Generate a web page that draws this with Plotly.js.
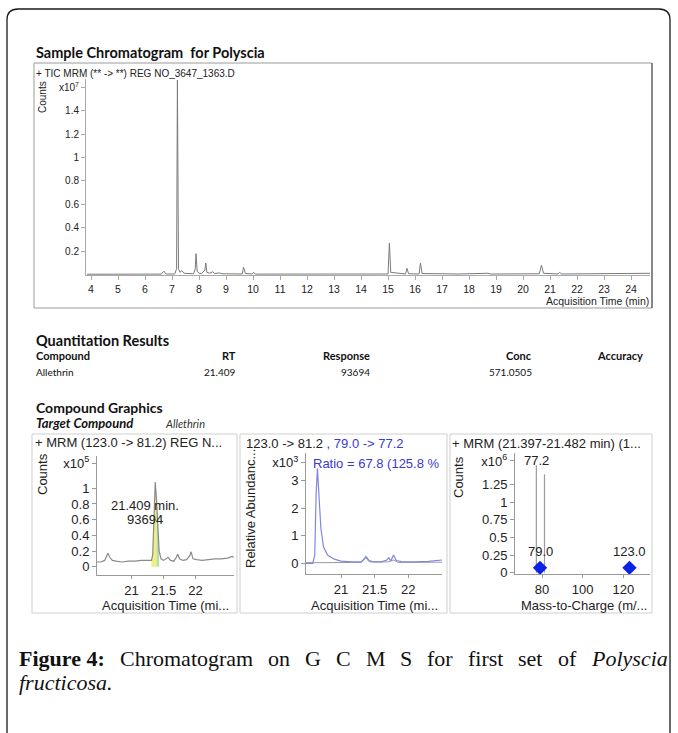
<!DOCTYPE html>
<html><head><meta charset="utf-8">
<script src="https://cdn.plot.ly/plotly-3.0.1.min.js"></script>
<style>html,body{margin:0;padding:0;background:#fff}#chart{width:678px;height:733px}</style>
</head><body><div id="chart"></div>
<script>
// ---- TIC chromatogram (counts x10^7 vs acquisition time, min)
const ticTime = [3.85,6.60,6.70,6.78,7.10,7.17,7.20,7.24,7.30,7.36,7.45,7.80,7.86,7.89,7.93,8.00,8.10,8.22,8.25,8.29,8.40,8.50,8.58,8.75,8.85,9.60,9.65,9.72,9.98,10.02,10.08,15.00,15.05,15.10,15.65,15.70,15.76,16.15,16.20,16.26,17.60,18.70,18.80,19.80,20.60,20.68,20.76,21.30,21.35,21.42,23.30,23.50,24.70];
const ticCounts = [0.004,0.005,0.030,0.006,0.006,0.050,1.660,0.050,0.020,0.035,0.012,0.008,0.050,0.180,0.030,0.012,0.010,0.040,0.100,0.020,0.012,0.025,0.010,0.015,0.008,0.006,0.063,0.010,0.006,0.020,0.005,0.006,0.270,0.020,0.006,0.055,0.008,0.006,0.100,0.010,0.006,0.012,0.006,0.008,0.008,0.080,0.012,0.006,0.020,0.006,0.006,0.012,0.012];
const ticXTicks = [4,5,6,7,8,9,10,11,12,13,14,15,16,17,18,19,20,21,22,23,24];
const ticYTicks = [0.2,0.4,0.6,0.8,1,1.2,1.4];

// ---- Quantitation results
const quantHeaders = ["Compound","RT","Response","Conc","Accuracy"];
const quantRow = ["Allethrin","21.409","93694","571.0505",""];

// ---- Panel 1: MRM 123.0 -> 81.2 (counts x10^5)
const p1Time = [20.46,20.52,20.58,20.61,20.63,20.66,20.70,20.76,20.85,20.95,21.05,21.15,21.25,21.31,21.33,21.35,21.37,21.39,21.41,21.43,21.46,21.50,21.54,21.57,21.61,21.66,21.70,21.72,21.75,21.80,21.86,21.91,21.93,21.96,22.02,22.10,22.20,22.30,22.40,22.50,22.57,22.60];
const p1Counts = [0.06,0.06,0.08,0.14,0.17,0.12,0.08,0.07,0.06,0.07,0.07,0.08,0.08,0.08,0.15,0.55,1.08,0.85,0.45,0.20,0.10,0.08,0.10,0.12,0.08,0.07,0.12,0.16,0.10,0.08,0.09,0.14,0.19,0.10,0.09,0.08,0.09,0.10,0.10,0.11,0.13,0.12];
const p1IntStart = 21.31, p1Apex = 21.39, p1IntEnd = 21.43;
const p1RT = "21.409 min.", p1Resp = "93694";
const p1XTicks = [21,21.5,22];
const p1YTicks = [0,0.2,0.4,0.6,0.8,1];

// ---- Panel 2: qualifier ratio (relative abundance x10^3)
const qualTime = [20.48,20.58,20.61,20.63,20.65,20.67,20.70,20.74,20.80,20.90,21.00,21.15,21.30,21.34,21.37,21.42,21.48,21.60,21.68,21.71,21.74,21.78,21.82,21.90,22.10,22.30,22.45,22.50];
const qualAbund = [0.00,0.00,0.30,2.50,3.45,2.60,1.30,0.60,0.30,0.15,0.08,0.05,0.05,0.15,0.25,0.10,0.05,0.05,0.12,0.20,0.08,0.30,0.10,0.06,0.05,0.07,0.10,0.12];
const quantTime = [20.48,21.00,21.30,21.37,21.42,21.70,21.78,21.85,22.50];
const quantAbund = [0.02,0.03,0.03,0.20,0.05,0.05,0.12,0.03,0.04];
const p2XTicks = [21,21.5,22];
const p2YTicks = [0,1,2,3];

// ---- Panel 3: product ion spectrum (counts x10^6 vs m/z)
const productMz = [77.2, 81.2];
const productCounts = [1.52, 1.39];
const precursorMz = [79.0, 123.0];
const precursorY = [0.07, 0.07];
const p3XTicks = [80,100,120];
const p3YTicks = [0,0.25,0.5,0.75,1,1.25];

// ---------- layout helpers (pixel -> paper)
const W=678, H=733;
const fx = p => p/W, fy = p => 1 - p/H;
const SANS = "Liberation Sans, Arial, sans-serif";
const HEAD = "Lato, Open Sans, sans-serif";
const SERIF = "Liberation Serif, Times New Roman, serif";
const TXT = "#222";
const PF = 13; // panel font size

function ann(text, x, y, o={}) {
  return Object.assign({text, x:fx(x), y:fy(y), xref:'paper', yref:'paper', showarrow:false,
    xanchor:'left', yanchor:'middle', borderpad:0, borderwidth:0,
    font:{family:SANS, size:PF, color:TXT}}, o);
}
function axisBase(o) {
  return Object.assign({showline:true, linecolor:'#9a9a9a', linewidth:1, ticks:'outside', ticklen:4,
    tickcolor:'#9a9a9a', showgrid:false, zeroline:false, tickfont:{family:SANS, size:PF, color:TXT},
    fixedrange:true}, o);
}

const traces = [];
traces.push({x:ticTime, y:ticCounts, xaxis:'x', yaxis:'y', type:'scatter', mode:'lines',
  line:{color:'#7a7a7a', width:1}, hoverinfo:'skip'});
const sel = (a,b) => p1Time.map((t,i)=>[t,p1Counts[i]]).filter(d=>d[0]>=a && d[0]<=b);
const yel = sel(p1IntStart, p1Apex), grn = sel(p1Apex, p1IntEnd);
traces.push({x:yel.map(d=>d[0]), y:yel.map(d=>d[1]), xaxis:'x2', yaxis:'y2', mode:'lines', fill:'tozeroy',
  fillcolor:'rgba(240,238,110,0.9)', line:{width:0, color:'rgba(0,0,0,0)'}});
traces.push({x:grn.map(d=>d[0]), y:grn.map(d=>d[1]), xaxis:'x2', yaxis:'y2', mode:'lines', fill:'tozeroy',
  fillcolor:'rgba(170,215,160,0.85)', line:{width:0, color:'rgba(0,0,0,0)'}});
traces.push({x:p1Time, y:p1Counts, xaxis:'x2', yaxis:'y2', mode:'lines', line:{color:'#8a8a8a', width:1.2}});
traces.push({x:quantTime, y:quantAbund, xaxis:'x3', yaxis:'y3', mode:'lines', line:{color:'#9a9a9a', width:1}});
traces.push({x:qualTime, y:qualAbund, xaxis:'x3', yaxis:'y3', mode:'lines', line:{color:'#8086e0', width:1.2}});
const sx=[], sy=[];
productMz.forEach((m,i)=>{ sx.push(m,m,null); sy.push(0,productCounts[i],null); });
traces.push({x:sx, y:sy, xaxis:'x4', yaxis:'y4', mode:'lines', line:{color:'#9a9a9a', width:1.2}});
traces.push({x:precursorMz, y:precursorY, xaxis:'x4', yaxis:'y4', mode:'markers',
  marker:{symbol:'diamond', size:11, color:'#0a22e6'}});

const sup = e => 'x10<sup>'+e+'</sup>';
const layout = {
  width:W, height:H, autosize:false, margin:{l:0,r:0,t:0,b:0}, showlegend:false,
  paper_bgcolor:'#fff', plot_bgcolor:'rgba(0,0,0,0)',
  xaxis: axisBase({domain:[fx(86),fx(650)], range:[3.815,24.70], anchor:'y', tickvals:ticXTicks,
    tickfont:{family:SANS,size:10.5,color:TXT}, linecolor:'#aaa', tickcolor:'#aaa'}),
  yaxis: axisBase({domain:[fy(275),fy(79)], range:[-0.0026,1.67], anchor:'x',
    tickvals:ticYTicks.concat([1.6]), ticktext:ticYTicks.map(String).concat([sup(7)]),
    tickfont:{family:SANS,size:10,color:TXT}, linecolor:'#aaa', tickcolor:'#aaa'}),
  xaxis2: axisBase({domain:[fx(97),fx(234)], range:[20.46,22.6], anchor:'y2', tickvals:p1XTicks, ticklen:3}),
  yaxis2: axisBase({domain:[fy(575),fy(456)], range:[-0.106,1.412], anchor:'x2',
    tickvals:p1YTicks.concat([1.32]), ticktext:p1YTicks.map(String).concat([sup(5)])}),
  xaxis3: axisBase({domain:[fx(306),fx(442)], range:[20.48,22.5], anchor:'y3', tickvals:p2XTicks, ticklen:3}),
  yaxis3: axisBase({domain:[fy(574),fy(453)], range:[-0.39,4.01], anchor:'x3',
    tickvals:p2YTicks.concat([3.66]), ticktext:p2YTicks.map(String).concat([sup(3)])}),
  xaxis4: axisBase({domain:[fx(515),fx(650)], range:[66.7,133.1], anchor:'y4', tickvals:p3XTicks, ticklen:3}),
  yaxis4: axisBase({domain:[fy(574),fy(453)], range:[-0.018,1.693], anchor:'x4',
    tickvals:p3YTicks.concat([1.58]), ticktext:p3YTicks.map(String).concat([sup(6)])}),
  shapes: [
    {type:'path', xref:'paper', yref:'paper', line:{color:'#1a1a1a', width:1.3},
     path:`M ${fx(7)},${fy(750)} L ${fx(7)},${fy(20)} Q ${fx(7)},${fy(9)} ${fx(18)},${fy(9)} L ${fx(659)},${fy(9)} Q ${fx(670)},${fy(9)} ${fx(670)},${fy(20)} L ${fx(670)},${fy(750)}`},
    {type:'rect', xref:'paper', yref:'paper', x0:fx(34), x1:fx(652), y0:fy(308), y1:fy(63), line:{color:'#9a9a9a', width:1}},
    {type:'line', xref:'paper', yref:'paper', x0:fx(652), x1:fx(652), y0:fy(308), y1:fy(63), line:{color:'#444', width:1}},
    {type:'rect', xref:'paper', yref:'paper', x0:fx(32), x1:fx(237), y0:fy(613), y1:fy(434), line:{color:'#cfcfcf', width:1}},
    {type:'rect', xref:'paper', yref:'paper', x0:fx(240), x1:fx(447), y0:fy(613), y1:fy(434), line:{color:'#cfcfcf', width:1}},
    {type:'rect', xref:'paper', yref:'paper', x0:fx(450), x1:fx(652), y0:fy(613), y1:fy(434), line:{color:'#cfcfcf', width:1}}
  ],
  annotations: []
};
const A = layout.annotations;
A.push(ann('<b>Sample Chromatogram  for Polyscia</b>', 36, 52, {font:{family:HEAD,size:14.5,color:'#111'}}));
A.push(ann('+ TIC MRM (** -> **) REG NO_3647_1363.D', 36, 73, {font:{family:SANS,size:10,color:TXT}}));
A.push(ann('Counts', 42, 97, {textangle:-90, xanchor:'center', font:{family:SANS,size:10,color:TXT}}));
A.push(ann('Acquisition Time (min)', 649, 301, {xanchor:'right', font:{family:SANS,size:10.5,color:TXT}}));
A.push(ann('<b>Quantitation Results</b>', 36, 340, {font:{family:HEAD,size:14.5,color:'#111'}}));
const qx = [[36,'left'],[236,'right'],[370,'right'],[532,'right'],[643,'right']];
quantHeaders.forEach((h,i)=>A.push(ann('<b>'+h+'</b>', qx[i][0], 356, {xanchor:qx[i][1], font:{family:HEAD,size:11,color:'#111'}})));
quantRow.forEach((v,i)=>{ if(v) A.push(ann(v, qx[i][0], 372, {xanchor:qx[i][1], font:{family:HEAD,size:10,color:'#111'}})); });
A.push(ann('<b>Compound Graphics</b>', 36, 407, {font:{family:HEAD,size:14,color:'#111'}}));
A.push(ann('<b><i>Target Compound</i></b>', 36, 423, {font:{family:HEAD,size:13,color:'#111'}}));
A.push(ann('<i>Allethrin</i>', 165, 423, {font:{family:HEAD,size:11,color:'#333'}}));
// Panel 1
A.push(ann('+ MRM (123.0 -> 81.2) REG N...', 35, 442));
A.push(ann('Counts', 42, 474, {textangle:-90, xanchor:'center'}));
A.push(ann(p1RT, 145, 505, {xanchor:'center'}));
A.push(ann(p1Resp, 145, 519, {xanchor:'center'}));
A.push(ann('Acquisition Time (mi...', 165, 605, {xanchor:'center'}));
// Panel 2
A.push(ann('123.0 -> 81.2 <span style="color:#3a3ad0">, 79.0 -> 77.2</span>', 246, 443));
A.push(ann('Relative Abundanc...', 250, 509, {textangle:-90, xanchor:'center'}));
A.push(ann('Ratio = 67.8 (125.8 %', 313, 463, {font:{family:SANS,size:PF,color:'#3a3ad0'}}));
A.push(ann('Acquisition Time (mi...', 374, 605, {xanchor:'center'}));
// Panel 3
A.push(ann('+ MRM (21.397-21.482 min) (1...', 452, 443));
A.push(ann('Counts', 458, 477, {textangle:-90, xanchor:'center'}));
A.push(ann('Mass-to-Charge (m/...', 584, 605, {xanchor:'center'}));
A.push({text:productMz[0].toFixed(1), x:productMz[0], y:productCounts[0], xref:'x4', yref:'y4', showarrow:false,
  yanchor:'middle', yshift:5, xanchor:'center', borderpad:0, font:{family:SANS,size:PF,color:TXT}});
precursorMz.forEach((m,i)=>A.push({text:m.toFixed(1), x:m, y:precursorY[i], xref:'x4', yref:'y4', showarrow:false,
  yanchor:'middle', yshift:16, xanchor:'center', borderpad:0, font:{family:SANS,size:PF,color:TXT}}));

// Caption: line 1 justified between L0 and L1 using SVG text measurement
const CS = 22;
const words = [['Figure 4:','bold','normal'],['Chromatogram'],['on'],['G'],['C'],['M'],['S'],['for'],['first'],['set'],['of'],['Polyscia','normal','italic']];
const svgNS = 'http://www.w3.org/2000/svg';
const msvg = document.createElementNS(svgNS,'svg');
msvg.setAttribute('width','10'); msvg.setAttribute('height','10');
document.body.appendChild(msvg);
const widths = words.map(w=>{
  const t = document.createElementNS(svgNS,'text');
  t.setAttribute('font-family', SERIF); t.setAttribute('font-size', CS);
  t.setAttribute('font-weight', w[1]||'normal'); t.setAttribute('font-style', w[2]||'normal');
  t.textContent = w[0]; msvg.appendChild(t);
  return t.getComputedTextLength();
});
msvg.remove();
const L0=19, L1=667;
const gap = (L1-L0-widths.reduce((a,b)=>a+b,0))/(words.length-1);
let cx = L0;
words.forEach((w,i)=>{
  let txt = w[0];
  if (w[1]==='bold') txt = '<b>'+txt+'</b>';
  if (w[2]==='italic') txt = '<i>'+txt+'</i>';
  A.push(ann(txt, cx, 658, {font:{family:SERIF,size:CS,color:'#111'}}));
  cx += widths[i]+gap;
});
A.push(ann('<i>fructicosa.</i>', 19, 682, {font:{family:SERIF,size:CS,color:'#111'}}));

Plotly.newPlot('chart', traces, layout, {staticPlot:true, displayModeBar:false});
</script></body></html>
